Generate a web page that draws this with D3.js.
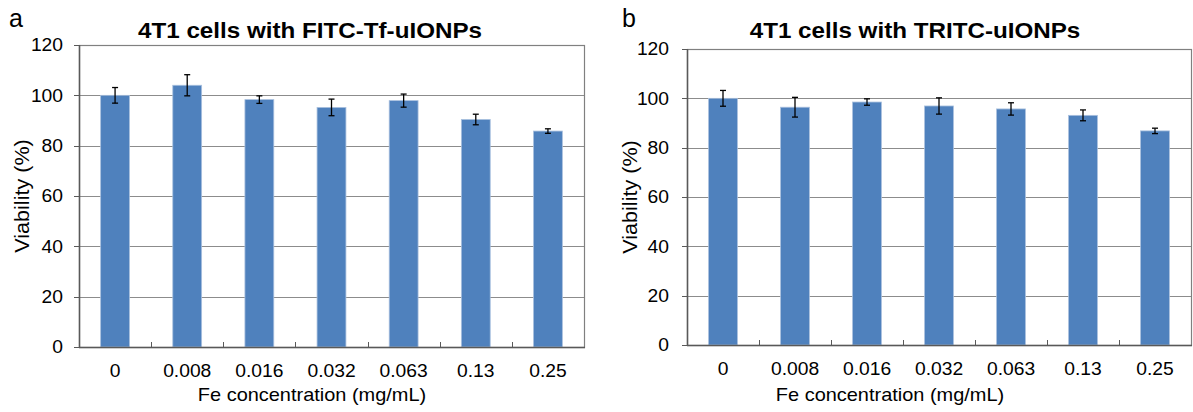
<!DOCTYPE html>
<meta charset="utf-8">
<script src="https://d3js.org/d3.v7.min.js"></script>
<style>
  body { margin: 0; background: #fff; }
  text { font-family: "Liberation Sans", Arial, sans-serif; fill: #000; }
</style>
<div id="chart"></div>
<script>
    // concentrations on the x axis (mg/mL)
    var concentrations = ["0", "0.008", "0.016", "0.032", "0.063", "0.13", "0.25"];
    var yTicks = [0, 20, 40, 60, 80, 100, 120];

    // panel a: FITC-Tf-uIONPs
    var fitcMeans = [100, 104, 98.3, 95.2, 97.9, 90.4, 85.8];
    var fitcErrors = [3.1, 4.2, 1.5, 3.3, 2.6, 2.1, 0.9];

    // panel b: TRITC-uIONPs
    var tritcMeans = [100, 96.4, 98.5, 96.9, 95.7, 93.1, 86.8];
    var tritcErrors = [3.2, 4.0, 1.3, 3.3, 2.5, 2.2, 1.1];

    var svg = d3.select("#chart")
        .append("svg")
        .attr("width", 1193)
        .attr("height", 412);

    // the source figure's text is slightly wide, so stretch it a little
    function place(x, y, sx) {
        return "translate(" + x + "," + y + ") scale(" + sx + ",1)";
    }

    function drawPanel(opts) {
        var g = svg.append("g");

        var x = d3.scaleBand()
            .domain(concentrations)
            .range([opts.left, opts.right])
            .padding(0);

        var y = d3.scaleLinear()
            .domain([0, 120])
            .range([opts.bottom, opts.top]);

        var barW = x.bandwidth() * 0.4;

        // gridlines
        g.append("g")
            .selectAll("line")
            .data(yTicks.filter(function (d) { return d > 0 && d < 120; }))
            .enter()
            .append("line")
            .attr("x1", opts.left)
            .attr("x2", opts.right)
            .attr("y1", function (d) { return Math.round(y(d)) + 0.5; })
            .attr("y2", function (d) { return Math.round(y(d)) + 0.5; })
            .style("stroke", "#8c8c8c")
            .style("stroke-width", 1);

        // plot border
        g.append("rect")
            .attr("x", opts.left + 0.5)
            .attr("y", Math.round(y(120)) + 0.5)
            .attr("width", opts.right - opts.left)
            .attr("height", Math.round(y(0)) - Math.round(y(120)))
            .style("fill", "none")
            .style("stroke", "#808080")
            .style("stroke-width", 1.2);

        // bars
        g.append("g")
            .selectAll("rect")
            .data(opts.means)
            .enter()
            .append("rect")
            .attr("x", function (d, i) { return x(concentrations[i]) + x.bandwidth() / 2 - barW / 2; })
            .attr("y", function (d) { return y(d); })
            .attr("width", barW)
            .attr("height", function (d) { return y(0) - y(d); })
            .style("fill", "#4f81bd")
            .style("stroke", "#a9c0de")
            .style("stroke-width", 0.8);

        // error bars
        var eb = g.append("g")
            .selectAll("g")
            .data(opts.means)
            .enter()
            .append("g")
            .attr("transform", function (d, i) {
                return "translate(" + (x(concentrations[i]) + x.bandwidth() / 2) + ",0)";
            });
        eb.append("line")
            .attr("y1", function (d, i) { return y(d + opts.errors[i]); })
            .attr("y2", function (d, i) { return y(d - opts.errors[i]); })
            .style("stroke", "#000").style("stroke-width", 1.3);
        eb.append("line")
            .attr("x1", -3).attr("x2", 3)
            .attr("y1", function (d, i) { return y(d + opts.errors[i]); })
            .attr("y2", function (d, i) { return y(d + opts.errors[i]); })
            .style("stroke", "#000").style("stroke-width", 1.3);
        eb.append("line")
            .attr("x1", -3).attr("x2", 3)
            .attr("y1", function (d, i) { return y(d - opts.errors[i]); })
            .attr("y2", function (d, i) { return y(d - opts.errors[i]); })
            .style("stroke", "#000").style("stroke-width", 1.3);

        // x axis with inward ticks at category boundaries
        var xAxis = g.append("g")
            .attr("transform", "translate(0," + Math.round(y(0)) + ")");
        xAxis.append("line")
            .attr("x1", opts.left).attr("x2", opts.right + 1)
            .attr("y1", 0.5).attr("y2", 0.5)
            .style("stroke", "#595959").style("stroke-width", 1.5);
        xAxis.selectAll(".tk")
            .data(concentrations.slice(1))
            .enter()
            .append("line")
            .attr("x1", function (d) { return Math.round(x(d)) + 0.5; })
            .attr("x2", function (d) { return Math.round(x(d)) + 0.5; })
            .attr("y1", 0).attr("y2", -5)
            .style("stroke", "#595959").style("stroke-width", 1);
        xAxis.selectAll(".lbl")
            .data(concentrations)
            .enter()
            .append("text")
            .attr("transform", function (d) { return place(x(d) + x.bandwidth() / 2, 30, 1.07); })
            .style("text-anchor", "middle")
            .style("font-size", "18px")
            .text(function (d) { return d; });

        // y axis
        var yAxis = g.append("g");
        yAxis.append("line")
            .attr("x1", opts.left + 0.5).attr("x2", opts.left + 0.5)
            .attr("y1", y(120)).attr("y2", y(0))
            .style("stroke", "#595959").style("stroke-width", 1.5);
        yAxis.selectAll(".tk")
            .data(yTicks)
            .enter()
            .append("line")
            .attr("x1", opts.left - 5).attr("x2", opts.left)
            .attr("y1", function (d) { return Math.round(y(d)) + 0.5; })
            .attr("y2", function (d) { return Math.round(y(d)) + 0.5; })
            .style("stroke", "#595959").style("stroke-width", 1);
        yAxis.selectAll(".lbl")
            .data(yTicks)
            .enter()
            .append("text")
            .attr("transform", function (d) { return place(opts.left - opts.labelGap, y(d), 1.07); })
            .attr("dy", "0.36em")
            .style("text-anchor", "end")
            .style("font-size", "18px")
            .text(function (d) { return d; });

        // axis titles
        g.append("text")
            .attr("transform", place(opts.xTitleX, 401, 1.05))
            .style("text-anchor", "middle")
            .style("font-size", "19px")
            .text("Fe concentration (mg/mL)");

        g.append("text")
            .attr("transform", "translate(" + opts.yTitleX + "," + ((y(0) + y(120)) / 2) + ") rotate(-90) scale(1.08,1)")
            .style("text-anchor", "middle")
            .style("font-size", "20px")
            .text("Viability  (%)");

        // chart title and panel letter
        g.append("text")
            .attr("transform", place(opts.titleX, 38, 1.1))
            .style("text-anchor", "middle")
            .style("font-size", "22px")
            .style("font-weight", "bold")
            .text(opts.title);

        g.append("text")
            .attr("x", opts.letterX)
            .attr("y", 27)
            .style("font-size", "25px")
            .text(opts.letter);
    }

    drawPanel({
        left: 79, right: 584, top: 45, bottom: 347,
        labelGap: 16, means: fitcMeans, errors: fitcErrors,
        title: "4T1 cells with FITC-Tf-uIONPs", titleX: 310,
        xTitleX: 312, yTitleX: 29, letter: "a", letterX: 9
    });

    drawPanel({
        left: 687, right: 1191, top: 49, bottom: 345,
        labelGap: 18, means: tritcMeans, errors: tritcErrors,
        title: "4T1 cells with TRITC-uIONPs", titleX: 915,
        xTitleX: 890, yTitleX: 637, letter: "b", letterX: 622
    });
</script>
